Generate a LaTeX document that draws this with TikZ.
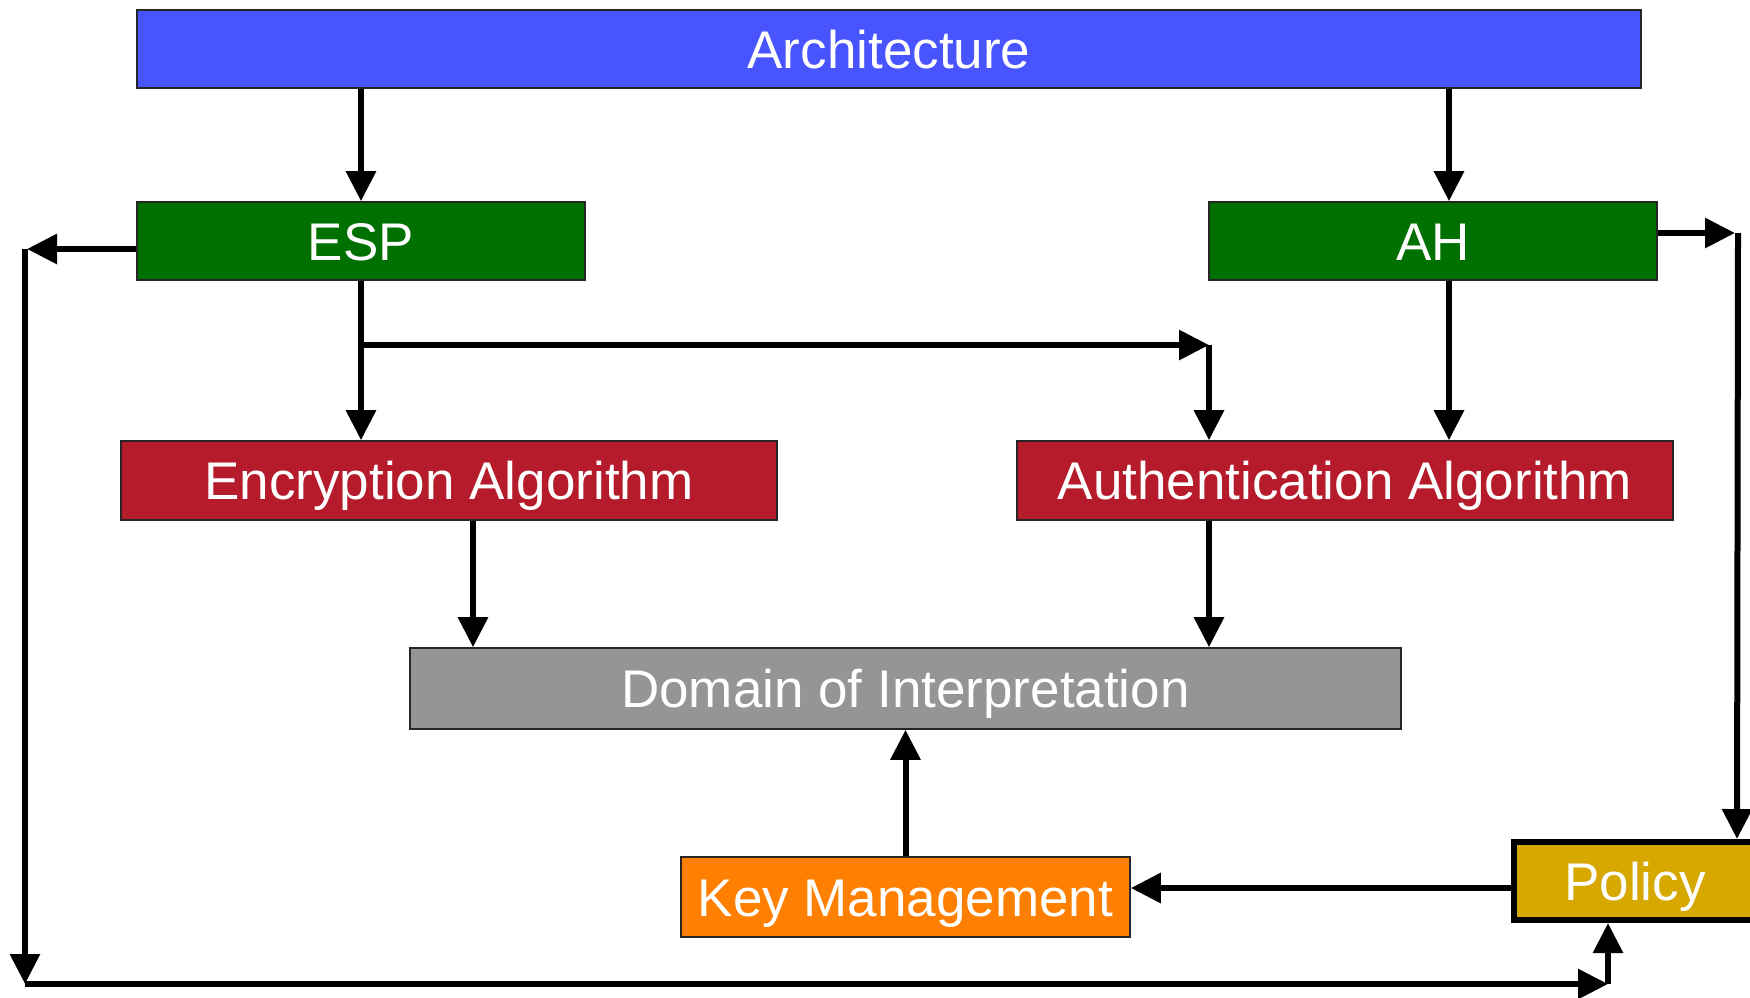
\documentclass[tikz,border=0pt]{standalone}
\usepackage{fontspec}
\setmainfont{Liberation Sans}
\usetikzlibrary{arrows.meta,calc}
\definecolor{archblue}{RGB}{72,85,255}
\definecolor{protogreen}{RGB}{0,112,0}
\definecolor{algred}{RGB}{181,27,43}
\definecolor{doigray}{RGB}{149,149,149}
\definecolor{keyorange}{RGB}{255,127,0}
\definecolor{policygold}{RGB}{214,168,0}
\begin{document}
\begin{tikzpicture}[x=0.5pt,y=-0.5pt,
  box/.style 2 args={draw=black!85, line width=0.8pt, text=white,
    font=\fontsize{26.5}{30}\selectfont, inner sep=0pt,
    text height=19pt, text depth=0pt,
    minimum width=#1*0.5pt, minimum height=#2*0.5pt},
  arr/.style={-{Triangle[length=15pt,width=14.5pt]}, line width=3pt, line cap=butt}]
\useasboundingbox (0,0) rectangle (1750,997);

% boxes
\node[box={1504}{78}, fill=archblue] (arch) at (889,49) {Architecture};
\node[box={448}{78}, fill=protogreen] (esp) at (361,241) {ESP};
\node[box={448}{78}, fill=protogreen] (ah) at (1433,241) {AH};
\node[box={656}{79}, fill=algred] (enc) at (449,480.5) {Encryption Algorithm};
\node[box={656}{79}, fill=algred] (auth) at (1345,480.5) {Authentication Algorithm};
\node[box={991}{81}, fill=doigray] (doi) at (905.5,688.5) {Domain of Interpretation};
\node[box={449}{80}, fill=keyorange] (key) at (905.5,897) {Key Management};
\node[box={242}{78}, fill=policygold, draw=black, line width=3pt] (policy) at (1635,881) {Policy};

% routing points
\coordinate (ahx) at (1449,0);
\coordinate (encx) at (473,0);
\coordinate (authx) at (1209,0);
\coordinate (br) at (361,345);
\coordinate (brE) at (1209,345);
\coordinate (L1) at (25,249);
\coordinate (L2) at (25,984);
\coordinate (L3) at (1608,984);
\coordinate (R1) at (1738,233);
\coordinate (polY) at (0,888);

% connectors
\draw[arr] (arch.south -| esp.north) -- (esp.north);
\draw[arr] (arch.south -| ahx) -- (ah.north -| ahx);
\draw[arr] (esp.south) -- (esp.south |- enc.north);
\draw[arr] (br) -- (brE);
\draw[arr] (brE) -- (brE |- auth.north);
\draw[arr] (ah.south -| ahx) -- (auth.north -| ahx);
\draw[arr] (enc.south -| encx) -- (doi.north -| encx);
\draw[arr] (auth.south -| authx) -- (doi.north -| authx);
\draw[arr] (key.north) -- (doi.south);
\draw[arr] (policy.west |- polY) -- (key.east |- polY);
\draw[arr] (esp.west |- L1) -- ($(L1)+(2,0)$);
\draw[arr] (L1) -- (L2);
\draw[arr] (L2) -- (L3);
\draw[arr] (L3) -- (L3 |- policy.south);
\draw[arr] (ah.east |- R1) -- ($(R1)+(-3,0)$);
\draw[arr] (R1) -- ($(R1 |- policy.north)+(-1,0)$);
\end{tikzpicture}
\end{document}
